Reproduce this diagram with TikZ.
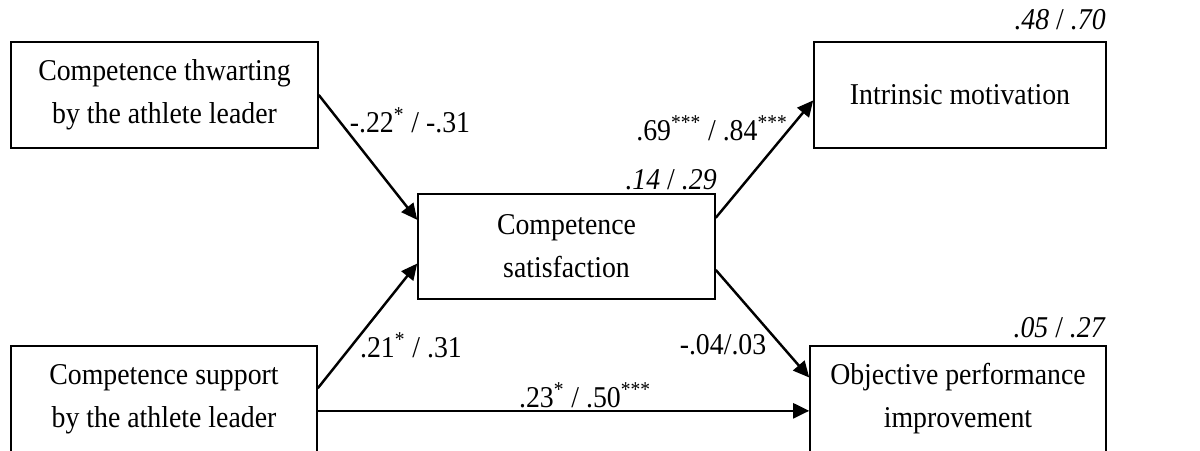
\documentclass[tikz,border=0pt]{standalone}
\usepackage{fontspec}
\setmainfont{Liberation Serif}[FakeStretch=0.92]
\usetikzlibrary{arrows.meta,calc}
\newcommand{\mainf}{\fontsize{17.2}{24.5}\selectfont}
\begin{document}
\begin{tikzpicture}[x=0.02cm,y=-0.02cm,
  box/.style n args={2}{draw, line width=0.9pt, minimum width=#1*0.02cm, minimum height=#2*0.02cm, inner sep=0pt, align=center, font=\mainf},
  conn/.style={line width=1.4pt, -{Triangle[length=0.32cm,width=0.3cm]}},
  lab/.style={font=\mainf, inner sep=0pt}]
\useasboundingbox (0,0) rectangle (1200,450);
\node[box={307}{106}] (A) at (164.5,95) {Competence thwarting\\by the athlete leader};
\node[box={306}{106}] (B) at (164,399) {Competence support\\by the athlete leader};
\node[box={297}{105}] (C) at (566.5,246.5) {Competence\\satisfaction};
\node[box={292}{106}] (D) at (960,95) {Intrinsic motivation};
\node[box={296}{106}] (E) at (958,399) {Objective performance\\improvement};
% connectors
\draw[conn] (A.east) -- ($(C.north west)!0.25!(C.south west)$);
\draw[conn] ($(B.north east)!0.4!(B.south east)$) -- ($(C.north west)!0.66!(C.south west)$);
\draw[conn] ($(C.north east)!0.23!(C.south east)$) -- ($(D.north west)!0.55!(D.south west)$);
\draw[conn] ($(C.north east)!0.72!(C.south east)$) -- ($(E.north west)!0.3!(E.south west)$);
\coordinate (bs) at ($(B.north east)!0.61!(B.south east)$);
\draw[conn] (bs) -- (E.west |- bs);
% labels
\node[lab] (l1) at (410,120) {-.22\textsuperscript{*} / -.31};
\node[lab] (l2) at (712,128) {.69\textsuperscript{***} / .84\textsuperscript{***}};
\node[lab] (l3) at (411,345) {.21\textsuperscript{*} / .31};
\node[lab] (l4) at (585,395) {.23\textsuperscript{*} / .50\textsuperscript{***}};
\node[lab] (l5) at (723,345) {-.04/.03};
\node[lab, anchor=east] (r1) at (717,180) {\textit{.14} / \textit{.29}};
\node[lab, anchor=east] (r2) at (1106,20) {\textit{.48} / \textit{.70}};
\node[lab, anchor=east] (r3) at (1106,328) {\textit{.05} / \textit{.27}};
\end{tikzpicture}
\end{document}
